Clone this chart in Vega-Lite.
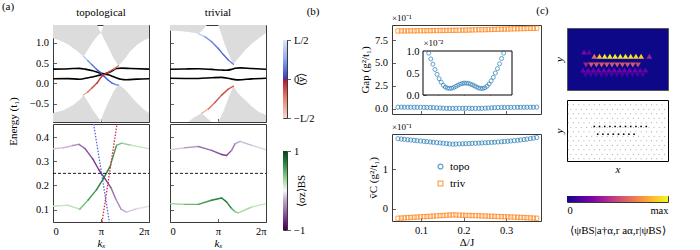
{
"$schema": "https://vega.github.io/schema/vega-lite/v6.json",
"padding": {"left": 1, "top": 1, "right": 0, "bottom": 0},
"background": "white",
"config": {
 "font": "Liberation Serif",
 "view": {"stroke": "#3a3a3a", "strokeWidth": 1},
 "axis": {"domain": false, "grid": false, "tickSize": -3.5, "tickColor": "#3a3a3a", "tickWidth": 0.8, "labelFont": "Liberation Serif", "labelFontSize": 10.5, "labelColor": "#000", "labelPadding": 8, "titleFont": "Liberation Serif", "titleFontSize": 11, "titleFontWeight": "normal", "titleColor": "#000", "titlePadding": 4},
 "title": {"font": "Liberation Serif", "fontSize": 11, "fontWeight": "normal", "color": "#000"},
 "legend": {"labelFont": "Liberation Serif", "labelFontSize": 11}
},
"datasets": {
 "topoBands": [
  {"seg":"u","k":0,"E":1.116,"E2":1.44},{"seg":"u","k":0.48,"E":1.06,"E2":1.44},{"seg":"u","k":1.02,"E":0.95,"E2":1.44},{"seg":"u","k":1.46,"E":0.83,"E2":1.44},{"seg":"u","k":1.79,"E":0.73,"E2":1.44},{"seg":"u","k":2.0,"E":0.665,"E2":1.44},{"seg":"u","k":2.22,"E":0.79,"E2":1.44},{"seg":"u","k":2.55,"E":0.99,"E2":1.44},{"seg":"u","k":2.9,"E":1.17,"E2":1.44},{"seg":"u","k":3.14,"E":1.24,"E2":1.24},{"seg":"u","k":3.31,"E":1.116,"E2":1.44},{"seg":"u","k":3.64,"E":0.87,"E2":1.44},{"seg":"u","k":3.97,"E":0.62,"E2":1.44},{"seg":"u","k":4.29,"E":0.434,"E2":1.44},{"seg":"u","k":4.62,"E":0.57,"E2":1.44},{"seg":"u","k":5.06,"E":0.79,"E2":1.44},{"seg":"u","k":5.5,"E":0.95,"E2":1.44},{"seg":"u","k":5.93,"E":1.06,"E2":1.44},{"seg":"u","k":6.2832,"E":1.116,"E2":1.44},
  {"seg":"l","k":0,"E":-0.953,"E2":-0.73},{"seg":"l","k":0.7,"E":-0.953,"E2":-0.665},{"seg":"l","k":1.35,"E":-0.953,"E2":-0.527},{"seg":"l","k":1.79,"E":-0.953,"E2":-0.39},{"seg":"l","k":2.0,"E":-0.953,"E2":-0.28},{"seg":"l","k":2.33,"E":-0.953,"E2":-0.485},{"seg":"l","k":2.66,"E":-0.953,"E2":-0.69},{"seg":"l","k":2.98,"E":-0.953,"E2":-0.855},{"seg":"l","k":3.14,"E":-0.91,"E2":-0.91},{"seg":"l","k":3.31,"E":-0.953,"E2":-0.73},{"seg":"l","k":3.64,"E":-0.953,"E2":-0.445},{"seg":"l","k":3.97,"E":-0.953,"E2":-0.2},{"seg":"l","k":4.29,"E":-0.953,"E2":-0.03},{"seg":"l","k":4.73,"E":-0.953,"E2":-0.157},{"seg":"l","k":5.28,"E":-0.953,"E2":-0.4},{"seg":"l","k":5.83,"E":-0.953,"E2":-0.61},{"seg":"l","k":6.2832,"E":-0.953,"E2":-0.73}
 ],
 "trivBands": [
  {"seg":"u1","k":0,"E":1.3,"E2":1.44},{"seg":"u1","k":0.6,"E":1.29,"E2":1.44},{"seg":"u1","k":1.2,"E":1.27,"E2":1.44},{"seg":"u1","k":1.85,"E":1.23,"E2":1.44},{"seg":"u1","k":2.1,"E":1.3,"E2":1.44},{"seg":"u1","k":2.4,"E":1.44,"E2":1.44},
  {"seg":"u2","k":3.15,"E":1.44,"E2":1.44},{"seg":"u2","k":3.38,"E":1.19,"E2":1.44},{"seg":"u2","k":3.6,"E":0.94,"E2":1.44},{"seg":"u2","k":3.82,"E":0.74,"E2":1.44},{"seg":"u2","k":4.04,"E":0.55,"E2":1.44},{"seg":"u2","k":4.15,"E":0.47,"E2":1.44},{"seg":"u2","k":4.47,"E":0.62,"E2":1.44},{"seg":"u2","k":4.91,"E":0.82,"E2":1.44},{"seg":"u2","k":5.35,"E":0.98,"E2":1.44},{"seg":"u2","k":5.79,"E":1.11,"E2":1.44},{"seg":"u2","k":6.2832,"E":1.25,"E2":1.44},
  {"seg":"l1","k":1.2,"E":-0.953,"E2":-0.953},{"seg":"l1","k":1.5,"E":-0.953,"E2":-0.86},{"seg":"l1","k":1.8,"E":-0.953,"E2":-0.79},{"seg":"l1","k":2.07,"E":-0.953,"E2":-0.74},{"seg":"l1","k":2.4,"E":-0.953,"E2":-0.85},{"seg":"l1","k":2.72,"E":-0.953,"E2":-0.953},
  {"seg":"l2","k":3.16,"E":-0.953,"E2":-0.953},{"seg":"l2","k":3.49,"E":-0.953,"E2":-0.7},{"seg":"l2","k":3.82,"E":-0.953,"E2":-0.37},{"seg":"l2","k":4.04,"E":-0.953,"E2":-0.16},{"seg":"l2","k":4.15,"E":-0.953,"E2":-0.067},{"seg":"l2","k":4.47,"E":-0.953,"E2":-0.25},{"seg":"l2","k":4.91,"E":-0.953,"E2":-0.41},{"seg":"l2","k":5.35,"E":-0.953,"E2":-0.57},{"seg":"l2","k":5.79,"E":-0.953,"E2":-0.7},{"seg":"l2","k":6.2832,"E":-0.953,"E2":-0.78}
 ],
 "topoEdge": [
  {"line":"b","k":2.0,"E":0.665,"yv":0.75},{"line":"b","k":2.27,"E":0.566,"yv":0.4},{"line":"b","k":2.55,"E":0.459,"yv":0.25},{"line":"b","k":2.88,"E":0.336,"yv":0.15},{"line":"b","k":3.1,"E":0.271,"yv":0.1},{"line":"b","k":3.31,"E":0.188,"yv":0.1},{"line":"b","k":3.58,"E":0.09,"yv":0.15},{"line":"b","k":3.86,"E":0.008,"yv":0.25},{"line":"b","k":4.12,"E":-0.033,"yv":0.45},{"line":"b","k":4.29,"E":-0.04,"yv":0.75},
  {"line":"r","k":2.0,"E":-0.28,"yv":-0.75},{"line":"r","k":2.27,"E":-0.215,"yv":-0.4},{"line":"r","k":2.55,"E":-0.116,"yv":-0.2},{"line":"r","k":2.88,"E":0.007,"yv":-0.1},{"line":"r","k":3.1,"E":0.13,"yv":-0.1},{"line":"r","k":3.31,"E":0.212,"yv":-0.1},{"line":"r","k":3.64,"E":0.278,"yv":-0.2},{"line":"r","k":3.97,"E":0.352,"yv":-0.4},{"line":"r","k":4.29,"E":0.434,"yv":-0.75}
 ],
 "trivEdge": [
  {"line":"b","k":1.85,"E":1.23,"yv":0.8},{"line":"b","k":2.29,"E":1.15,"yv":0.4},{"line":"b","k":2.72,"E":1.03,"yv":0.25},{"line":"b","k":3.16,"E":0.86,"yv":0.2},{"line":"b","k":3.49,"E":0.71,"yv":0.2},{"line":"b","k":3.83,"E":0.57,"yv":0.3},{"line":"b","k":4.15,"E":0.47,"yv":0.6},
  {"line":"r","k":2.07,"E":-0.74,"yv":-0.8},{"line":"r","k":2.51,"E":-0.63,"yv":-0.4},{"line":"r","k":2.94,"E":-0.47,"yv":-0.25},{"line":"r","k":3.38,"E":-0.29,"yv":-0.2},{"line":"r","k":3.82,"E":-0.14,"yv":-0.3},{"line":"r","k":4.15,"E":-0.067,"yv":-0.6}
 ],
 "topoLow": [
  {"band":"p","k":0,"E":0.352,"sz":-0.15},{"band":"p","k":0.7,"E":0.356,"sz":-0.2},{"band":"p","k":1.3,"E":0.365,"sz":-0.35},{"band":"p","k":1.7,"E":0.37,"sz":-0.5},{"band":"p","k":2.1,"E":0.352,"sz":-0.65},{"band":"p","k":2.6,"E":0.31,"sz":-0.72},{"band":"p","k":3.0,"E":0.265,"sz":-0.72},{"band":"p","k":3.4,"E":0.228,"sz":-0.65},{"band":"p","k":3.8,"E":0.19,"sz":-0.5},{"band":"p","k":4.1,"E":0.145,"sz":-0.38},{"band":"p","k":4.45,"E":0.102,"sz":-0.25},{"band":"p","k":4.8,"E":0.09,"sz":-0.15},{"band":"p","k":5.5,"E":0.104,"sz":-0.08},{"band":"p","k":6.2832,"E":0.114,"sz":-0.05},
  {"band":"g","k":0,"E":0.114,"sz":0.15},{"band":"g","k":0.98,"E":0.118,"sz":0.2},{"band":"g","k":1.75,"E":0.102,"sz":0.4},{"band":"g","k":2.3,"E":0.14,"sz":0.6},{"band":"g","k":2.84,"E":0.182,"sz":0.72},{"band":"g","k":3.3,"E":0.228,"sz":0.72},{"band":"g","k":3.73,"E":0.278,"sz":0.6},{"band":"g","k":4.16,"E":0.366,"sz":0.42},{"band":"g","k":4.5,"E":0.375,"sz":0.3},{"band":"g","k":5.1,"E":0.366,"sz":0.15},{"band":"g","k":6.2832,"E":0.352,"sz":0.08}
 ],
 "trivLow": [
  {"band":"p","k":0,"E":0.348,"sz":-0.15},{"band":"p","k":0.98,"E":0.356,"sz":-0.3},{"band":"p","k":1.85,"E":0.361,"sz":-0.5},{"band":"p","k":2.72,"E":0.345,"sz":-0.6},{"band":"p","k":3.38,"E":0.328,"sz":-0.7},{"band":"p","k":3.7,"E":0.324,"sz":-0.65},{"band":"p","k":4.03,"E":0.345,"sz":-0.45},{"band":"p","k":4.25,"E":0.372,"sz":-0.3},{"band":"p","k":4.58,"E":0.382,"sz":-0.2},{"band":"p","k":5.35,"E":0.366,"sz":-0.12},{"band":"p","k":6.2832,"E":0.348,"sz":-0.15},
  {"band":"g","k":0,"E":0.125,"sz":0.3},{"band":"g","k":0.98,"E":0.122,"sz":0.45},{"band":"g","k":1.85,"E":0.122,"sz":0.6},{"band":"g","k":2.72,"E":0.139,"sz":0.7},{"band":"g","k":3.38,"E":0.148,"sz":0.75},{"band":"g","k":3.7,"E":0.132,"sz":0.7},{"band":"g","k":4.03,"E":0.105,"sz":0.5},{"band":"g","k":4.25,"E":0.092,"sz":0.35},{"band":"g","k":4.47,"E":0.087,"sz":0.25},{"band":"g","k":5.35,"E":0.111,"sz":0.15},{"band":"g","k":6.2832,"E":0.125,"sz":0.3}
 ],
 "topoDot": [
  {"line":"b","k":2.66,"E":0.454},{"line":"b","k":3.69,"E":0.049},
  {"line":"r","k":3.21,"E":0.049},{"line":"r","k":4.19,"E":0.454}
 ],
 "flat": [{"k":0,"E":0.25},{"k":6.2832,"E":0.25}],
 "gap": [
  {"d":0.046,"topo":0.15,"triv":8.50},{"d":0.054,"topo":0.15,"triv":8.50},{"d":0.061,"topo":0.145,"triv":8.50},{"d":0.069,"topo":0.14,"triv":8.51},{"d":0.076,"topo":0.14,"triv":8.51},{"d":0.084,"topo":0.135,"triv":8.51},{"d":0.091,"topo":0.13,"triv":8.52},{"d":0.099,"topo":0.125,"triv":8.52},{"d":0.107,"topo":0.12,"triv":8.52},{"d":0.114,"topo":0.115,"triv":8.53},{"d":0.122,"topo":0.11,"triv":8.53},{"d":0.129,"topo":0.1,"triv":8.54},{"d":0.137,"topo":0.078,"triv":8.54},{"d":0.145,"topo":0.055,"triv":8.55},{"d":0.152,"topo":0.035,"triv":8.55},{"d":0.160,"topo":0.02,"triv":8.56},{"d":0.167,"topo":0.014,"triv":8.56},{"d":0.175,"topo":0.015,"triv":8.57},{"d":0.182,"topo":0.02,"triv":8.57},{"d":0.190,"topo":0.024,"triv":8.58},{"d":0.198,"topo":0.027,"triv":8.59},{"d":0.205,"topo":0.027,"triv":8.59},{"d":0.213,"topo":0.025,"triv":8.60},{"d":0.220,"topo":0.02,"triv":8.61},{"d":0.228,"topo":0.016,"triv":8.62},{"d":0.236,"topo":0.015,"triv":8.63},{"d":0.243,"topo":0.02,"triv":8.63},{"d":0.251,"topo":0.035,"triv":8.64},{"d":0.258,"topo":0.055,"triv":8.65},{"d":0.266,"topo":0.078,"triv":8.66},{"d":0.273,"topo":0.1,"triv":8.67},{"d":0.281,"topo":0.11,"triv":8.68},{"d":0.289,"topo":0.115,"triv":8.69},{"d":0.296,"topo":0.12,"triv":8.70},{"d":0.304,"topo":0.12,"triv":8.71},{"d":0.311,"topo":0.125,"triv":8.72},{"d":0.319,"topo":0.125,"triv":8.73},{"d":0.327,"topo":0.13,"triv":8.74},{"d":0.334,"topo":0.13,"triv":8.75},{"d":0.342,"topo":0.135,"triv":8.76},{"d":0.349,"topo":0.14,"triv":8.77},{"d":0.357,"topo":0.14,"triv":8.78},{"d":0.364,"topo":0.145,"triv":8.79},{"d":0.372,"topo":0.15,"triv":8.80}
 ],
 "vc": [
  {"d":0.046,"topo":1.78,"triv":-0.24},{"d":0.054,"topo":1.772,"triv":-0.235},{"d":0.061,"topo":1.763,"triv":-0.23},{"d":0.069,"topo":1.755,"triv":-0.225},{"d":0.076,"topo":1.747,"triv":-0.22},{"d":0.084,"topo":1.739,"triv":-0.215},{"d":0.091,"topo":1.73,"triv":-0.21},{"d":0.099,"topo":1.722,"triv":-0.205},{"d":0.107,"topo":1.714,"triv":-0.2},{"d":0.114,"topo":1.706,"triv":-0.195},{"d":0.122,"topo":1.698,"triv":-0.19},{"d":0.129,"topo":1.69,"triv":-0.185},{"d":0.137,"topo":1.681,"triv":-0.18},{"d":0.145,"topo":1.673,"triv":-0.175},{"d":0.152,"topo":1.665,"triv":-0.17},{"d":0.160,"topo":1.657,"triv":-0.165},{"d":0.167,"topo":1.648,"triv":-0.16},{"d":0.175,"topo":1.64,"triv":-0.155},{"d":0.182,"topo":1.645,"triv":-0.158},{"d":0.190,"topo":1.648,"triv":-0.161},{"d":0.198,"topo":1.651,"triv":-0.164},{"d":0.205,"topo":1.654,"triv":-0.167},{"d":0.213,"topo":1.657,"triv":-0.17},{"d":0.220,"topo":1.661,"triv":-0.172},{"d":0.228,"topo":1.665,"triv":-0.175},{"d":0.236,"topo":1.669,"triv":-0.178},{"d":0.243,"topo":1.673,"triv":-0.181},{"d":0.251,"topo":1.677,"triv":-0.184},{"d":0.258,"topo":1.682,"triv":-0.187},{"d":0.266,"topo":1.687,"triv":-0.19},{"d":0.273,"topo":1.692,"triv":-0.193},{"d":0.281,"topo":1.697,"triv":-0.196},{"d":0.289,"topo":1.703,"triv":-0.199},{"d":0.296,"topo":1.709,"triv":-0.202},{"d":0.304,"topo":1.716,"triv":-0.205},{"d":0.311,"topo":1.723,"triv":-0.208},{"d":0.319,"topo":1.731,"triv":-0.211},{"d":0.327,"topo":1.74,"triv":-0.215},{"d":0.334,"topo":1.749,"triv":-0.219},{"d":0.342,"topo":1.759,"triv":-0.223},{"d":0.349,"topo":1.77,"triv":-0.227},{"d":0.357,"topo":1.782,"triv":-0.231},{"d":0.364,"topo":1.796,"triv":-0.236},{"d":0.372,"topo":1.81,"triv":-0.24}
 ],
 "inset": [
  {"d":0.132,"g":0.95},{"d":0.136,"g":0.82},{"d":0.140,"g":0.70},{"d":0.144,"g":0.58},{"d":0.148,"g":0.47},{"d":0.152,"g":0.37},{"d":0.156,"g":0.29},{"d":0.160,"g":0.22},{"d":0.164,"g":0.18},{"d":0.168,"g":0.155},{"d":0.172,"g":0.15},{"d":0.176,"g":0.155},{"d":0.180,"g":0.17},{"d":0.184,"g":0.195},{"d":0.188,"g":0.22},{"d":0.192,"g":0.245},{"d":0.196,"g":0.26},{"d":0.200,"g":0.27},{"d":0.204,"g":0.27},{"d":0.208,"g":0.265},{"d":0.212,"g":0.25},{"d":0.216,"g":0.23},{"d":0.220,"g":0.205},{"d":0.224,"g":0.18},{"d":0.228,"g":0.16},{"d":0.232,"g":0.15},{"d":0.236,"g":0.15},{"d":0.240,"g":0.165},{"d":0.244,"g":0.2},{"d":0.248,"g":0.25},{"d":0.252,"g":0.32},{"d":0.256,"g":0.4},{"d":0.260,"g":0.5},{"d":0.264,"g":0.6},{"d":0.268,"g":0.71},{"d":0.272,"g":0.83},{"d":0.276,"g":0.95}
 ],
 "latTop": [
  {"x":27.3,"y":33.7,"v":0.62,"dir":"up"},{"x":32.5,"y":33.7,"v":0.88,"dir":"up"},{"x":37.7,"y":33.7,"v":0.95,"dir":"up"},{"x":42.9,"y":33.7,"v":0.97,"dir":"up"},{"x":48.1,"y":33.7,"v":0.97,"dir":"up"},{"x":53.3,"y":33.7,"v":0.97,"dir":"up"},{"x":58.5,"y":33.7,"v":0.97,"dir":"up"},{"x":63.7,"y":33.7,"v":0.95,"dir":"up"},{"x":68.9,"y":33.7,"v":0.92,"dir":"up"},{"x":74.1,"y":33.7,"v":0.88,"dir":"up"},{"x":82.3,"y":33.7,"v":0.35,"dir":"up"},
  {"x":19.0,"y":25,"v":0.35,"dir":"down"},{"x":24.2,"y":25,"v":0.55,"dir":"down"},{"x":29.4,"y":25,"v":0.55,"dir":"down"},{"x":34.6,"y":25,"v":0.55,"dir":"down"},{"x":39.8,"y":25,"v":0.55,"dir":"down"},{"x":45.0,"y":25,"v":0.55,"dir":"down"},{"x":50.2,"y":25,"v":0.55,"dir":"down"},{"x":55.4,"y":25,"v":0.55,"dir":"down"},{"x":60.6,"y":25,"v":0.55,"dir":"down"},{"x":65.8,"y":25,"v":0.55,"dir":"down"},{"x":71.0,"y":25,"v":0.5,"dir":"down"},
  {"x":17.0,"y":38,"v":0.25,"dir":"up"},{"x":22.0,"y":38,"v":0.2,"dir":"up"},
  {"x":16.0,"y":20,"v":0.2,"dir":"up"},{"x":21.2,"y":20,"v":0.2,"dir":"up"},{"x":26.4,"y":20,"v":0.22,"dir":"up"},{"x":31.6,"y":20,"v":0.22,"dir":"up"},{"x":36.8,"y":20,"v":0.22,"dir":"up"},{"x":42.0,"y":20,"v":0.22,"dir":"up"},{"x":47.2,"y":20,"v":0.22,"dir":"up"},{"x":52.4,"y":20,"v":0.22,"dir":"up"},{"x":57.6,"y":20,"v":0.22,"dir":"up"},{"x":62.8,"y":20,"v":0.22,"dir":"up"},{"x":68.0,"y":20,"v":0.22,"dir":"up"},{"x":73.2,"y":20,"v":0.2,"dir":"up"},{"x":78.4,"y":20,"v":0.2,"dir":"up"},
  {"x":18.6,"y":15,"v":0.12,"dir":"down"},{"x":23.8,"y":15,"v":0.12,"dir":"down"},{"x":29.0,"y":15,"v":0.12,"dir":"down"},{"x":34.2,"y":15,"v":0.12,"dir":"down"},{"x":39.4,"y":15,"v":0.12,"dir":"down"},{"x":44.6,"y":15,"v":0.12,"dir":"down"},{"x":49.8,"y":15,"v":0.12,"dir":"down"},{"x":55.0,"y":15,"v":0.12,"dir":"down"},{"x":60.2,"y":15,"v":0.12,"dir":"down"},{"x":65.4,"y":15,"v":0.12,"dir":"down"},{"x":70.6,"y":15,"v":0.12,"dir":"down"},{"x":75.8,"y":15,"v":0.12,"dir":"down"}
 ],
 "latGrid": [
  {"y":2.2,"xs":[1.3,6.5,11.7,16.9,22.1,27.3,32.5,37.7,42.9,48.1,53.3,58.5,63.7,68.9,74.1,79.3,84.5,89.7,94.9]},
  {"y":6.7,"xs":[3.9,9.1,14.3,19.5,24.7,29.9,35.1,40.3,45.5,50.7,55.9,61.1,66.3,71.5,76.7,81.9,87.1,92.3,97.5]},
  {"y":11.2,"xs":[1.3,6.5,11.7,16.9,22.1,27.3,32.5,37.7,42.9,48.1,53.3,58.5,63.7,68.9,74.1,79.3,84.5,89.7,94.9]},
  {"y":15.7,"xs":[3.9,9.1,14.3,19.5,24.7,29.9,35.1,40.3,45.5,50.7,55.9,61.1,66.3,71.5,76.7,81.9,87.1,92.3,97.5]},
  {"y":20.2,"xs":[1.3,6.5,11.7,16.9,22.1,27.3,32.5,37.7,42.9,48.1,53.3,58.5,63.7,68.9,74.1,79.3,84.5,89.7,94.9]},
  {"y":24.7,"xs":[3.9,9.1,14.3,19.5,24.7,29.9,35.1,40.3,45.5,50.7,55.9,61.1,66.3,71.5,76.7,81.9,87.1,92.3,97.5]},
  {"y":29.2,"xs":[1.3,6.5,11.7,16.9,22.1,27.3,32.5,37.7,42.9,48.1,53.3,58.5,63.7,68.9,74.1,79.3,84.5,89.7,94.9]},
  {"y":33.7,"xs":[3.9,9.1,14.3,19.5,24.7,29.9,35.1,40.3,45.5,50.7,55.9,61.1,66.3,71.5,76.7,81.9,87.1,92.3,97.5]},
  {"y":38.2,"xs":[1.3,6.5,11.7,16.9,22.1,27.3,32.5,37.7,42.9,48.1,53.3,58.5,63.7,68.9,74.1,79.3,84.5,89.7,94.9]},
  {"y":42.7,"xs":[3.9,9.1,14.3,19.5,24.7,29.9,35.1,40.3,45.5,50.7,55.9,61.1,66.3,71.5,76.7,81.9,87.1,92.3,97.5]},
  {"y":47.2,"xs":[1.3,6.5,11.7,16.9,22.1,27.3,32.5,37.7,42.9,48.1,53.3,58.5,63.7,68.9,74.1,79.3,84.5,89.7,94.9]},
  {"y":51.7,"xs":[3.9,9.1,14.3,19.5,24.7,29.9,35.1,40.3,45.5,50.7,55.9,61.1,66.3,71.5,76.7,81.9,87.1,92.3,97.5]},
  {"y":56.2,"xs":[1.3,6.5,11.7,16.9,22.1,27.3,32.5,37.7,42.9,48.1,53.3,58.5,63.7,68.9,74.1,79.3,84.5,89.7,94.9]}
 ],
 "latBot": [
  {"x":27.3,"y":34.5},{"x":32.5,"y":34.5},{"x":37.7,"y":34.5},{"x":42.9,"y":34.5},{"x":48.1,"y":34.5},{"x":53.3,"y":34.5},{"x":58.5,"y":34.5},{"x":63.7,"y":34.5},{"x":68.9,"y":34.5},{"x":74.1,"y":34.5},{"x":79.3,"y":34.5},
  {"x":30.7,"y":26.8},{"x":35.9,"y":26.8},{"x":41.1,"y":26.8},{"x":46.3,"y":26.8},{"x":51.5,"y":26.8},{"x":56.7,"y":26.8},{"x":61.9,"y":26.8},{"x":67.1,"y":26.8}
 ]
},
"spacing": 3,
"resolve": {"scale": {"color": "independent", "shape": "independent"}, "legend": {"color": "independent", "shape": "independent"}},
"hconcat": [
 {
  "spacing": 38,
  "resolve": {"scale": {"color": "independent", "shape": "independent"}, "legend": {"color": "independent", "shape": "independent"}},
  "hconcat": [
   {
    "title": {"text": "(a)", "anchor": "start", "dx": -6, "offset": -6},
    "spacing": 13,
    "resolve": {"scale": {"color": "independent", "shape": "independent"}, "legend": {"color": "independent", "shape": "independent"}},
    "hconcat": [
     {
      "spacing": 15,
      "resolve": {"scale": {"color": "independent", "shape": "independent"}, "legend": {"color": "independent", "shape": "independent"}},
      "hconcat": [
       {
        "title": {"text": "Energy (t₁)", "orient": "left", "anchor": "middle", "offset": 10, "dx": 6, "fontSize": 11},
        "spacing": 0,
        "resolve": {"scale": {"color": "independent", "shape": "independent"}, "legend": {"color": "independent", "shape": "independent"}},
        "vconcat": [
         {
          "width": 96, "height": 97,
          "title": {"text": "topological", "anchor": "middle", "frame": "group", "offset": 7},
          "encoding": {
           "x": {"field": "k", "type": "quantitative", "scale": {"domain": [0, 6.2832], "nice": false, "zero": false}, "axis": {"values": [0, 3.1416, 6.2832], "labels": false, "title": null}},
           "y": {"field": "E", "type": "quantitative", "scale": {"domain": [-0.953, 1.44], "nice": false, "zero": false}, "axis": {"values": [-0.5, 0, 0.5, 1], "format": ".1f", "title": null}}
          },
          "layer": [
           {"data": {"name": "topoBands"}, "mark": {"type": "area", "color": "#dcdcdc", "clip": true}, "encoding": {"y2": {"field": "E2"}, "detail": {"field": "seg"}}},
           {"data": {"name": "topoLow"}, "mark": {"type": "line", "color": "#000", "strokeWidth": 1.6, "interpolate": "monotone", "clip": true}, "encoding": {"detail": {"field": "band"}}},
           {"data": {"name": "topoEdge"},
            "transform": [{"window": [{"op": "lead", "field": "k", "as": "k2"}, {"op": "lead", "field": "E", "as": "E2"}], "groupby": ["line"], "sort": [{"field": "k"}]}, {"filter": "datum.k2 != null"}],
            "mark": {"type": "rule", "strokeWidth": 1.4, "strokeCap": "round", "clip": true},
            "encoding": {"x2": {"field": "k2"}, "y2": {"field": "E2"}, "color": {"field": "yv", "type": "quantitative", "scale": {"domain": [-1, -0.5, -0.001, 0.001, 0.5, 1], "range": ["#f5d8cc", "#e8826a", "#b2122e", "#2b3dc5", "#8ea4ee", "#e4e7f4"]}, "legend": null}}}
          ]
         },
         {
          "width": 96, "height": 98,
          "encoding": {
           "x": {"field": "k", "type": "quantitative", "scale": {"domain": [0, 6.2832], "nice": false, "zero": false}, "axis": {"values": [0, 3.1416, 6.2832], "labelExpr": "datum.value < 1 ? '0' : datum.value < 4 ? 'π' : '2π'", "title": "kₓ", "titleFontStyle": "italic", "titlePadding": 0}},
           "y": {"field": "E", "type": "quantitative", "scale": {"domain": [0.049, 0.454], "nice": false, "zero": false}, "axis": {"values": [0.1, 0.2, 0.3, 0.4], "format": ".1f", "title": null}}
          },
          "layer": [
           {"data": {"name": "topoLow"},
            "transform": [{"window": [{"op": "lead", "field": "k", "as": "k2"}, {"op": "lead", "field": "E", "as": "E2"}], "groupby": ["band"], "sort": [{"field": "k"}]}, {"filter": "datum.k2 != null"}],
            "mark": {"type": "rule", "strokeWidth": 1.4, "strokeCap": "round", "clip": true},
            "encoding": {"x2": {"field": "k2"}, "y2": {"field": "E2"}, "color": {"field": "sz", "type": "quantitative", "scale": {"domain": [-1, -0.75, -0.5, -0.25, 0, 0.25, 0.5, 0.75, 1], "range": ["#40004b", "#762a83", "#9970ab", "#c2a5cf", "#f7f7f7", "#a6dba0", "#5aae61", "#1b7837", "#00441b"]}, "legend": null}}},
           {"data": {"name": "flat"}, "mark": {"type": "line", "color": "#000", "strokeWidth": 0.9, "strokeDash": [3, 2]}, "encoding": {}},
           {"data": {"name": "topoDot"}, "mark": {"type": "line", "strokeWidth": 1.3, "strokeDash": [1.5, 1.5], "clip": true}, "encoding": {"color": {"field": "line", "type": "nominal", "scale": {"domain": ["b", "r"], "range": ["#5468d8", "#d42a3c"]}, "legend": null}}}
          ]
         }
        ]
       },
       {
        "spacing": 0,
        "resolve": {"scale": {"color": "independent", "shape": "independent"}, "legend": {"color": "independent", "shape": "independent"}},
        "vconcat": [
         {
          "width": 96, "height": 97,
          "title": {"text": "trivial", "anchor": "middle", "frame": "group", "offset": 7},
          "encoding": {
           "x": {"field": "k", "type": "quantitative", "scale": {"domain": [0, 6.2832], "nice": false, "zero": false}, "axis": {"values": [0, 3.1416, 6.2832], "labels": false, "title": null}},
           "y": {"field": "E", "type": "quantitative", "scale": {"domain": [-0.953, 1.44], "nice": false, "zero": false}, "axis": {"values": [-0.5, 0, 0.5, 1], "labels": false, "title": null}}
          },
          "layer": [
           {"data": {"name": "trivBands"}, "mark": {"type": "area", "color": "#dcdcdc", "clip": true}, "encoding": {"y2": {"field": "E2"}, "detail": {"field": "seg"}}},
           {"data": {"name": "trivLow"}, "mark": {"type": "line", "color": "#000", "strokeWidth": 1.6, "interpolate": "monotone", "clip": true}, "encoding": {"detail": {"field": "band"}}},
           {"data": {"name": "trivEdge"},
            "transform": [{"window": [{"op": "lead", "field": "k", "as": "k2"}, {"op": "lead", "field": "E", "as": "E2"}], "groupby": ["line"], "sort": [{"field": "k"}]}, {"filter": "datum.k2 != null"}],
            "mark": {"type": "rule", "strokeWidth": 1.4, "strokeCap": "round", "clip": true},
            "encoding": {"x2": {"field": "k2"}, "y2": {"field": "E2"}, "color": {"field": "yv", "type": "quantitative", "scale": {"domain": [-1, -0.5, -0.001, 0.001, 0.5, 1], "range": ["#f5d8cc", "#e8826a", "#b2122e", "#2b3dc5", "#8ea4ee", "#e4e7f4"]}, "legend": null}}}
          ]
         },
         {
          "width": 96, "height": 98,
          "encoding": {
           "x": {"field": "k", "type": "quantitative", "scale": {"domain": [0, 6.2832], "nice": false, "zero": false}, "axis": {"values": [0, 3.1416, 6.2832], "labelExpr": "datum.value < 1 ? '0' : datum.value < 4 ? 'π' : '2π'", "title": "kₓ", "titleFontStyle": "italic", "titlePadding": 0}},
           "y": {"field": "E", "type": "quantitative", "scale": {"domain": [0.049, 0.454], "nice": false, "zero": false}, "axis": {"values": [0.1, 0.2, 0.3, 0.4], "labels": false, "title": null}}
          },
          "layer": [
           {"data": {"name": "trivLow"},
            "transform": [{"window": [{"op": "lead", "field": "k", "as": "k2"}, {"op": "lead", "field": "E", "as": "E2"}], "groupby": ["band"], "sort": [{"field": "k"}]}, {"filter": "datum.k2 != null"}],
            "mark": {"type": "rule", "strokeWidth": 1.4, "strokeCap": "round", "clip": true},
            "encoding": {"x2": {"field": "k2"}, "y2": {"field": "E2"}, "color": {"field": "sz", "type": "quantitative", "scale": {"domain": [-1, -0.75, -0.5, -0.25, 0, 0.25, 0.5, 0.75, 1], "range": ["#40004b", "#762a83", "#9970ab", "#c2a5cf", "#f7f7f7", "#a6dba0", "#5aae61", "#1b7837", "#00441b"]}, "legend": null}}},
           {"data": {"name": "flat"}, "mark": {"type": "line", "color": "#000", "strokeWidth": 0.9, "strokeDash": [3, 2]}, "encoding": {}}
          ]
         }
        ]
       }
      ]
     },
     {
      "title": {"text": "(b)", "anchor": "end", "dx": 5, "offset": 8},
      "spacing": 0,
      "resolve": {"scale": {"color": "independent", "shape": "independent"}, "legend": {"color": "independent", "shape": "independent"}},
      "vconcat": [
       {"width": 4, "height": 9, "data": {"values": []}, "mark": "point", "encoding": {}, "view": {"stroke": null}},
       {
        "spacing": 21,
        "vconcat": [
         {"width": 4, "height": 78, "data": {"values": [{"lo": -1, "hi": 1}]},
          "mark": {"type": "rect", "fill": {"gradient": "linear", "x1": 0, "y1": 0, "x2": 0, "y2": 1, "stops": [{"offset": 0, "color": "#e4e7f4"}, {"offset": 0.25, "color": "#8ea4ee"}, {"offset": 0.5, "color": "#2b3dc5"}, {"offset": 0.5, "color": "#b2122e"}, {"offset": 0.75, "color": "#e8826a"}, {"offset": 1, "color": "#f5d8cc"}]}},
          "encoding": {"y": {"field": "lo", "type": "quantitative", "scale": {"domain": [-1, 1], "nice": false, "zero": false}, "axis": {"orient": "right", "values": [-1, 0, 1], "labelExpr": "datum.value > 0.5 ? 'L/2' : datum.value < -0.5 ? '−L/2' : '0'", "tickSize": 3.5, "labelPadding": 3, "title": "⟨y⟩", "titleAngle": 270, "titlePadding": 3, "maxExtent": 16}}, "y2": {"field": "hi"}}},
         {"width": 4, "height": 79, "data": {"values": [{"lo": -1, "hi": 1}]},
          "mark": {"type": "rect", "fill": {"gradient": "linear", "x1": 0, "y1": 0, "x2": 0, "y2": 1, "stops": [{"offset": 0, "color": "#00441b"}, {"offset": 0.125, "color": "#1b7837"}, {"offset": 0.25, "color": "#5aae61"}, {"offset": 0.375, "color": "#a6dba0"}, {"offset": 0.5, "color": "#f7f7f7"}, {"offset": 0.625, "color": "#c2a5cf"}, {"offset": 0.75, "color": "#9970ab"}, {"offset": 0.875, "color": "#762a83"}, {"offset": 1, "color": "#40004b"}]}},
          "encoding": {"y": {"field": "lo", "type": "quantitative", "scale": {"domain": [-1, 1], "nice": false, "zero": false}, "axis": {"orient": "right", "values": [-1, 0, 1], "format": "d", "tickSize": 3.5, "labelPadding": 3, "title": "⟨σz⟩BS", "titleAngle": 270, "titlePadding": 3, "maxExtent": 16}}, "y2": {"field": "hi"}}}
        ]
       }
      ]
     }
    ]
   },
   {
    "title": {"text": "(c)", "anchor": "end", "dx": 7, "offset": -2},
    "spacing": 7,
    "resolve": {"scale": {"color": "independent", "shape": "independent"}, "legend": {"color": "independent", "shape": "independent"}},
    "vconcat": [
     {
      "width": 149, "height": 89,
      "title": {"text": "×10⁻¹", "anchor": "start", "fontSize": 9, "offset": 1, "frame": "group"},
      "layer": [
       {"data": {"name": "gap"}, "transform": [{"fold": ["topo", "triv"], "as": ["series", "val"]}],
        "mark": {"type": "point", "filled": false, "size": 18, "strokeWidth": 1},
        "encoding": {
         "x": {"field": "d", "type": "quantitative", "scale": {"domain": [0.032, 0.382], "nice": false, "zero": false}, "axis": {"values": [0.1, 0.2, 0.3], "labels": false, "title": null}},
         "y": {"field": "val", "type": "quantitative", "scale": {"domain": [-0.6, 9.15], "nice": false, "zero": false}, "axis": {"values": [0, 2.5, 5, 7.5], "format": ".1f", "title": "Gap (g²/t₁)"}},
         "color": {"field": "series", "type": "nominal", "scale": {"domain": ["topo", "triv"], "range": ["#1f77b4", "#ff7f0e"]}, "legend": null},
         "shape": {"field": "series", "type": "nominal", "scale": {"domain": ["topo", "triv"], "range": ["circle", "square"]}, "legend": null}
        }},
       {"layer": [
         {"data": {"values": [{"d": 0.121, "d2": 0.292, "g": 0, "g2": 1}]}, "mark": {"type": "rect", "fill": "white", "stroke": "#000", "strokeWidth": 1},
          "encoding": {
           "x": {"field": "d", "type": "quantitative", "scale": {"domain": [0.121, 0.292], "range": [31, 120], "nice": false, "zero": false}, "axis": {"orient": "bottom", "offset": -19, "values": [0.15, 0.2, 0.25], "labels": false, "title": null, "tickSize": -3}},
           "x2": {"field": "d2"},
           "y": {"field": "g", "type": "quantitative", "scale": {"domain": [0, 1], "range": [70, 26], "nice": false, "zero": false}, "axis": {"orient": "left", "offset": -31, "values": [0, 0.5, 1], "format": ".1f", "tickSize": -3, "labelPadding": 7, "title": "×10⁻²", "titleAngle": 0, "titleAlign": "left", "titleBaseline": "bottom", "titleX": 0, "titleY": 22, "titleFontSize": 9}},
           "y2": {"field": "g2"}
          }},
         {"data": {"name": "inset"}, "mark": {"type": "point", "filled": false, "size": 16, "strokeWidth": 1, "color": "#1f77b4"},
          "encoding": {"x": {"field": "d", "type": "quantitative"}, "y": {"field": "g", "type": "quantitative"}}}
       ]}
      ],
      "resolve": {"scale": {"x": "independent", "y": "independent"}, "axis": {"x": "independent", "y": "independent"}}
     },
     {
      "width": 149, "height": 87,
      "title": {"text": "×10⁻¹", "anchor": "start", "fontSize": 9, "offset": 1, "frame": "group"},
      "data": {"name": "vc"},
      "transform": [{"fold": ["topo", "triv"], "as": ["series", "val"]}],
      "mark": {"type": "point", "filled": false, "size": 18, "strokeWidth": 1},
      "encoding": {
       "x": {"field": "d", "type": "quantitative", "scale": {"domain": [0.032, 0.382], "nice": false, "zero": false}, "axis": {"values": [0.1, 0.2, 0.3], "format": ".1f", "title": "Δ/J", "titlePadding": 0}},
       "y": {"field": "val", "type": "quantitative", "scale": {"domain": [-0.31, 1.9], "nice": false, "zero": false}, "axis": {"values": [0, 1], "format": "d", "title": "v̄C (g²/t₁)"}},
       "color": {"field": "series", "type": "nominal", "scale": {"domain": ["topo", "triv"], "range": ["#1f77b4", "#ff7f0e"]}, "legend": {"orient": "none", "legendX": 43, "legendY": 27, "title": null, "symbolSize": 24, "symbolStrokeWidth": 1.2, "rowPadding": 5, "labelFontSize": 11}},
       "shape": {"field": "series", "type": "nominal", "scale": {"domain": ["topo", "triv"], "range": ["circle", "square"]}, "legend": {"orient": "none", "legendX": 43, "legendY": 27, "title": null, "symbolSize": 24, "symbolStrokeWidth": 1.2, "rowPadding": 5, "labelFontSize": 11}}
      }
     }
    ]
   }
  ]
 },
 {
  "spacing": 0,
  "resolve": {"scale": {"color": "independent", "shape": "independent"}, "legend": {"color": "independent", "shape": "independent"}},
  "vconcat": [
   {"width": 101, "height": 2, "data": {"values": []}, "mark": "point", "encoding": {}, "view": {"stroke": null}},
   {
    "spacing": 20,
    "resolve": {"scale": {"color": "independent", "shape": "independent"}, "legend": {"color": "independent", "shape": "independent"}},
    "vconcat": [
     {
      "spacing": 8,
      "resolve": {"scale": {"color": "independent", "shape": "independent"}, "legend": {"color": "independent", "shape": "independent"}},
      "vconcat": [
       {"width": 101, "height": 62, "view": {"fill": "#0d0887", "stroke": "#555"},
        "data": {"name": "latTop"},
        "mark": {"type": "point", "filled": true, "size": 34, "opacity": 1},
        "encoding": {
         "x": {"field": "x", "type": "quantitative", "scale": {"domain": [0, 101], "nice": false, "zero": false}, "axis": null},
         "y": {"field": "y", "type": "quantitative", "scale": {"domain": [0, 62], "nice": false, "zero": false}, "axis": {"title": "y", "titleFontStyle": "italic", "ticks": false, "labels": false, "labelPadding": 0, "titlePadding": 3}},
         "color": {"field": "v", "type": "quantitative", "scale": {"scheme": "plasma", "domain": [0, 1]}, "legend": null},
         "shape": {"field": "dir", "type": "nominal", "scale": {"domain": ["up", "down"], "range": ["triangle-up", "triangle-down"]}, "legend": null}
        }},
       {"width": 101, "height": 61, "view": {"stroke": "#000"},
        "layer": [
         {"data": {"name": "latGrid"}, "transform": [{"flatten": ["xs"], "as": ["x"]}],
          "mark": {"type": "circle", "size": 1.2, "color": "#9a9a9a", "opacity": 1}},
         {"data": {"name": "latBot"}, "mark": {"type": "square", "size": 2.5, "color": "#000", "opacity": 1}}
        ],
        "encoding": {
         "x": {"field": "x", "type": "quantitative", "scale": {"domain": [0, 101], "nice": false, "zero": false}, "axis": {"title": "x", "titleFontStyle": "italic", "ticks": false, "labels": false, "labelPadding": 0, "titlePadding": 2}},
         "y": {"field": "y", "type": "quantitative", "scale": {"domain": [0, 61], "nice": false, "zero": false}, "axis": {"title": "y", "titleFontStyle": "italic", "ticks": false, "labels": false, "labelPadding": 0, "titlePadding": 3}}
        }}
      ]
     },
     {"width": 101, "height": 6, "data": {"values": [{"lo": 0, "hi": 1}]},
      "mark": {"type": "rect", "fill": {"gradient": "linear", "x1": 0, "y1": 0, "x2": 1, "y2": 0, "stops": [{"offset": 0, "color": "#0d0887"}, {"offset": 0.125, "color": "#4c02a1"}, {"offset": 0.25, "color": "#7e03a8"}, {"offset": 0.375, "color": "#a82296"}, {"offset": 0.5, "color": "#cc4778"}, {"offset": 0.625, "color": "#e66c5c"}, {"offset": 0.75, "color": "#f89540"}, {"offset": 0.875, "color": "#fdc527"}, {"offset": 1, "color": "#f0f921"}]}},
      "encoding": {"x": {"field": "lo", "type": "quantitative", "scale": {"domain": [0, 1], "nice": false, "zero": false}, "axis": {"values": [0, 1], "labelExpr": "datum.value < 0.5 ? '0' : 'max'", "ticks": false, "labelPadding": 3, "title": "⟨ψBS|a†α,r aα,r|ψBS⟩", "titlePadding": 9}}, "x2": {"field": "hi"}}}
    ]
   }
  ]
 }
]
}
